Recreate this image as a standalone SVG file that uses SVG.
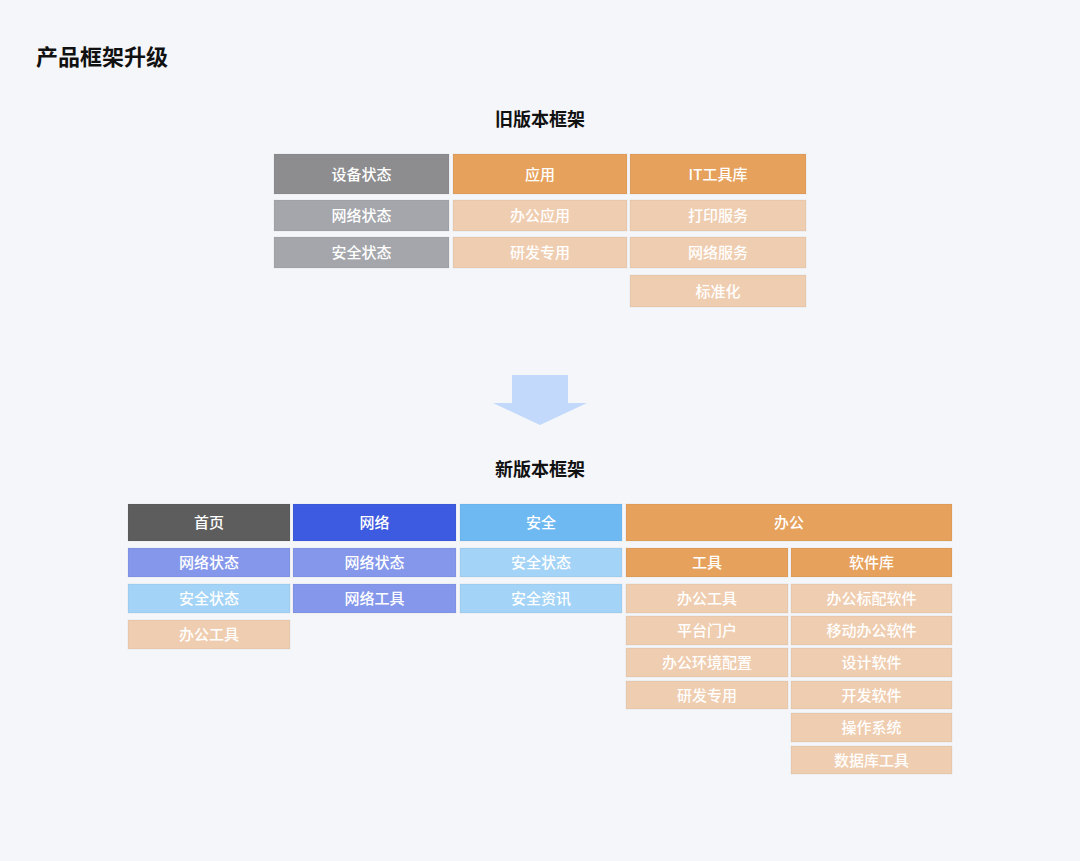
<svg xmlns="http://www.w3.org/2000/svg" width="1080" height="861" viewBox="0 0 1080 861">
<style>
text{font-family:"Noto Sans CJK SC","Noto Sans",sans-serif;text-anchor:middle;dominant-baseline:central;fill:#fff;font-size:15px;font-weight:500}
.title{font-size:22px;font-weight:700;fill:#111;text-anchor:start}
.sec{font-size:18px;font-weight:700;fill:#111}
.g1{fill:#8d8d8f}.g2{fill:#a4a6ab}
.o1{fill:#e6a15c}.o2{fill:#efcdb0}
.d1{fill:#5d5d5d}.b1{fill:#3d5be0}.b2{fill:#8497eb}
.c1{fill:#6fb9f2}.c2{fill:#a3d3f6}
g rect{stroke:#000;stroke-opacity:0.06;stroke-width:1}
</style>
<rect x="0" y="0" width="1080" height="861" fill="#f5f6fa"/>
<text class="title" x="36" y="55">产品框架升级</text>
<text class="sec" x="540" y="118">旧版本框架</text>
<g id="old">
<g id="o-sb"><rect class="g1" x="274" y="154" width="175" height="40"/><text x="361.5" y="173">设备状态</text></g>
<g id="o-wl"><rect class="g2" x="274" y="200" width="175" height="31"/><text x="361.5" y="214.5">网络状态</text></g>
<g id="o-aq"><rect class="g2" x="274" y="237" width="175" height="31"/><text x="361.5" y="251.5">安全状态</text></g>
<g id="o-yy"><rect class="o1" x="453" y="154" width="174" height="40"/><text x="540" y="173">应用</text></g>
<g id="o-bg"><rect class="o2" x="453" y="200" width="174" height="31"/><text x="540" y="214.5">办公应用</text></g>
<g id="o-yf"><rect class="o2" x="453" y="237" width="174" height="31"/><text x="540" y="251.5">研发专用</text></g>
<g id="o-it"><rect class="o1" x="630" y="154" width="176" height="40"/><text x="718" y="173">IT工具库</text></g>
<g id="o-dy"><rect class="o2" x="630" y="200" width="176" height="31"/><text x="718" y="214.5">打印服务</text></g>
<g id="o-wf"><rect class="o2" x="630" y="237" width="176" height="31"/><text x="718" y="251.5">网络服务</text></g>
<g id="o-bz"><rect class="o2" x="630" y="275" width="176" height="32"/><text x="718" y="290">标准化</text></g>
</g>
<g id="connectors">
<path d="M512 375 H568 V403 H587 L540 425 L493 403 H512 Z" fill="#c2d9fb"/>
</g>
<text class="sec" x="540" y="468">新版本框架</text>
<g id="new">
<g id="n-sy"><rect class="d1" x="128" y="504" width="162" height="37"/><text x="209" y="521.5">首页</text></g>
<g id="n-sy1"><rect class="b2" x="128" y="548" width="162" height="29"/><text x="209" y="561.5">网络状态</text></g>
<g id="n-sy2"><rect class="c2" x="128" y="584" width="162" height="29"/><text x="209" y="597.5">安全状态</text></g>
<g id="n-sy3"><rect class="o2" x="128" y="620" width="162" height="29"/><text x="209" y="633.5">办公工具</text></g>
<g id="n-wl"><rect class="b1" x="293" y="504" width="163" height="37"/><text x="374.5" y="521.5">网络</text></g>
<g id="n-wl1"><rect class="b2" x="293" y="548" width="163" height="29"/><text x="374.5" y="561.5">网络状态</text></g>
<g id="n-wl2"><rect class="b2" x="293" y="584" width="163" height="29"/><text x="374.5" y="597.5">网络工具</text></g>
<g id="n-aq"><rect class="c1" x="460" y="504" width="162" height="37"/><text x="541" y="521.5">安全</text></g>
<g id="n-aq1"><rect class="c2" x="460" y="548" width="162" height="29"/><text x="541" y="561.5">安全状态</text></g>
<g id="n-aq2"><rect class="c2" x="460" y="584" width="162" height="29"/><text x="541" y="597.5">安全资讯</text></g>
<g id="n-bg"><rect class="o1" x="626" y="504" width="326" height="37"/><text x="789" y="521.5">办公</text></g>
<g id="n-gj"><rect class="o1" x="626" y="548" width="162" height="29"/><text x="707" y="561.5">工具</text></g>
<g id="n-gj1"><rect class="o2" x="626" y="584" width="162" height="29"/><text x="707" y="597.5">办公工具</text></g>
<g id="n-gj2"><rect class="o2" x="626" y="616" width="162" height="29"/><text x="707" y="629.5">平台门户</text></g>
<g id="n-gj3"><rect class="o2" x="626" y="648" width="162" height="29"/><text x="707" y="661.5">办公环境配置</text></g>
<g id="n-gj4"><rect class="o2" x="626" y="681" width="162" height="28"/><text x="707" y="694">研发专用</text></g>
<g id="n-rj"><rect class="o1" x="791" y="548" width="161" height="29"/><text x="871.5" y="561.5">软件库</text></g>
<g id="n-rj1"><rect class="o2" x="791" y="584" width="161" height="29"/><text x="871.5" y="597.5">办公标配软件</text></g>
<g id="n-rj2"><rect class="o2" x="791" y="616" width="161" height="29"/><text x="871.5" y="629.5">移动办公软件</text></g>
<g id="n-rj3"><rect class="o2" x="791" y="648" width="161" height="29"/><text x="871.5" y="661.5">设计软件</text></g>
<g id="n-rj4"><rect class="o2" x="791" y="681" width="161" height="28"/><text x="871.5" y="694">开发软件</text></g>
<g id="n-rj5"><rect class="o2" x="791" y="713" width="161" height="29"/><text x="871.5" y="726.5">操作系统</text></g>
<g id="n-rj6"><rect class="o2" x="791" y="746" width="161" height="28"/><text x="871.5" y="759">数据库工具</text></g>
</g>
</svg>
